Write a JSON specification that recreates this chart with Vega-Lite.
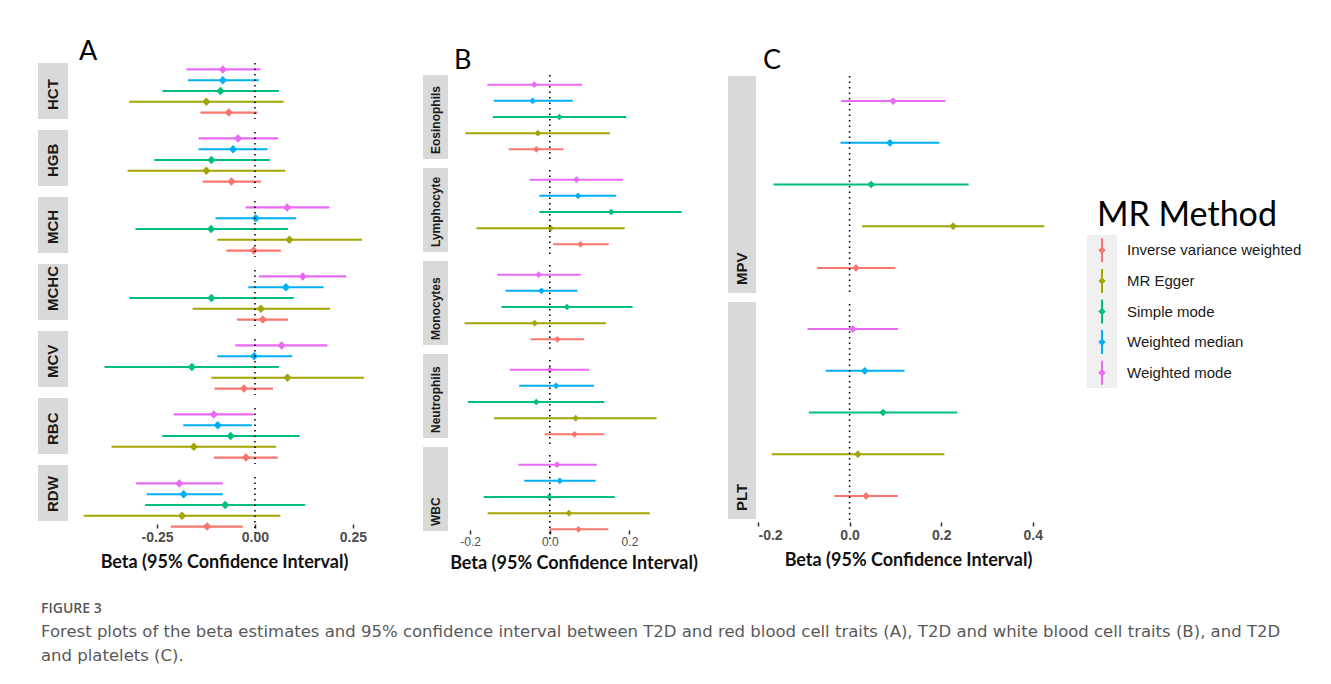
{
  "$schema": "https://vega.github.io/schema/vega-lite/v6.json",
  "background": "white",
  "padding": {"left": 38, "top": 38, "right": 0, "bottom": 0},
  "config": {
    "view": {"stroke": null},
    "axis": {"grid": false, "domain": false}
  },
  "datasets": {
    "mr": [
      {"panel": "A", "trait": "HCT", "method": "Inverse variance weighted", "beta": -0.067, "lo": -0.139, "hi": 0.006},
      {"panel": "A", "trait": "HCT", "method": "MR Egger", "beta": -0.124, "lo": -0.321, "hi": 0.073},
      {"panel": "A", "trait": "HCT", "method": "Simple mode", "beta": -0.088, "lo": -0.236, "hi": 0.061},
      {"panel": "A", "trait": "HCT", "method": "Weighted median", "beta": -0.082, "lo": -0.171, "hi": 0.010},
      {"panel": "A", "trait": "HCT", "method": "Weighted mode", "beta": -0.082, "lo": -0.175, "hi": 0.014},
      {"panel": "A", "trait": "HGB", "method": "Inverse variance weighted", "beta": -0.060, "lo": -0.133, "hi": 0.015},
      {"panel": "A", "trait": "HGB", "method": "MR Egger", "beta": -0.124, "lo": -0.325, "hi": 0.077},
      {"panel": "A", "trait": "HGB", "method": "Simple mode", "beta": -0.111, "lo": -0.257, "hi": 0.038},
      {"panel": "A", "trait": "HGB", "method": "Weighted median", "beta": -0.056, "lo": -0.144, "hi": 0.032},
      {"panel": "A", "trait": "HGB", "method": "Weighted mode", "beta": -0.043, "lo": -0.144, "hi": 0.059},
      {"panel": "A", "trait": "MCH", "method": "Inverse variance weighted", "beta": -0.003, "lo": -0.073, "hi": 0.066},
      {"panel": "A", "trait": "MCH", "method": "MR Egger", "beta": 0.088, "lo": -0.096, "hi": 0.273},
      {"panel": "A", "trait": "MCH", "method": "Simple mode", "beta": -0.112, "lo": -0.305, "hi": 0.084},
      {"panel": "A", "trait": "MCH", "method": "Weighted median", "beta": 0.002, "lo": -0.101, "hi": 0.105},
      {"panel": "A", "trait": "MCH", "method": "Weighted mode", "beta": 0.082, "lo": -0.024, "hi": 0.190},
      {"panel": "A", "trait": "MCHC", "method": "Inverse variance weighted", "beta": 0.020, "lo": -0.046, "hi": 0.084},
      {"panel": "A", "trait": "MCHC", "method": "MR Egger", "beta": 0.015, "lo": -0.159, "hi": 0.192},
      {"panel": "A", "trait": "MCHC", "method": "Simple mode", "beta": -0.111, "lo": -0.320, "hi": 0.099},
      {"panel": "A", "trait": "MCHC", "method": "Weighted median", "beta": 0.079, "lo": -0.017, "hi": 0.175},
      {"panel": "A", "trait": "MCHC", "method": "Weighted mode", "beta": 0.122, "lo": 0.010, "hi": 0.233},
      {"panel": "A", "trait": "MCV", "method": "Inverse variance weighted", "beta": -0.028, "lo": -0.103, "hi": 0.046},
      {"panel": "A", "trait": "MCV", "method": "MR Egger", "beta": 0.083, "lo": -0.111, "hi": 0.278},
      {"panel": "A", "trait": "MCV", "method": "Simple mode", "beta": -0.161, "lo": -0.384, "hi": 0.061},
      {"panel": "A", "trait": "MCV", "method": "Weighted median", "beta": -0.002, "lo": -0.096, "hi": 0.095},
      {"panel": "A", "trait": "MCV", "method": "Weighted mode", "beta": 0.068, "lo": -0.050, "hi": 0.185},
      {"panel": "A", "trait": "RBC", "method": "Inverse variance weighted", "beta": -0.023, "lo": -0.105, "hi": 0.058},
      {"panel": "A", "trait": "RBC", "method": "MR Egger", "beta": -0.156, "lo": -0.366, "hi": 0.054},
      {"panel": "A", "trait": "RBC", "method": "Simple mode", "beta": -0.062, "lo": -0.237, "hi": 0.114},
      {"panel": "A", "trait": "RBC", "method": "Weighted median", "beta": -0.095, "lo": -0.183, "hi": -0.008},
      {"panel": "A", "trait": "RBC", "method": "Weighted mode", "beta": -0.105, "lo": -0.207, "hi": -0.003},
      {"panel": "A", "trait": "RDW", "method": "Inverse variance weighted", "beta": -0.122, "lo": -0.215, "hi": -0.031},
      {"panel": "A", "trait": "RDW", "method": "MR Egger", "beta": -0.186, "lo": -0.437, "hi": 0.065},
      {"panel": "A", "trait": "RDW", "method": "Simple mode", "beta": -0.076, "lo": -0.280, "hi": 0.128},
      {"panel": "A", "trait": "RDW", "method": "Weighted median", "beta": -0.182, "lo": -0.276, "hi": -0.082},
      {"panel": "A", "trait": "RDW", "method": "Weighted mode", "beta": -0.193, "lo": -0.303, "hi": -0.082},
      {"panel": "B", "trait": "Eosinophils", "method": "Inverse variance weighted", "beta": -0.034, "lo": -0.103, "hi": 0.034},
      {"panel": "B", "trait": "Eosinophils", "method": "MR Egger", "beta": -0.030, "lo": -0.212, "hi": 0.151},
      {"panel": "B", "trait": "Eosinophils", "method": "Simple mode", "beta": 0.024, "lo": -0.143, "hi": 0.192},
      {"panel": "B", "trait": "Eosinophils", "method": "Weighted median", "beta": -0.043, "lo": -0.141, "hi": 0.058},
      {"panel": "B", "trait": "Eosinophils", "method": "Weighted mode", "beta": -0.039, "lo": -0.157, "hi": 0.081},
      {"panel": "B", "trait": "Lymphocyte", "method": "Inverse variance weighted", "beta": 0.077, "lo": 0.008, "hi": 0.148},
      {"panel": "B", "trait": "Lymphocyte", "method": "MR Egger", "beta": 0.002, "lo": -0.184, "hi": 0.188},
      {"panel": "B", "trait": "Lymphocyte", "method": "Simple mode", "beta": 0.154, "lo": -0.026, "hi": 0.331},
      {"panel": "B", "trait": "Lymphocyte", "method": "Weighted median", "beta": 0.071, "lo": -0.026, "hi": 0.166},
      {"panel": "B", "trait": "Lymphocyte", "method": "Weighted mode", "beta": 0.067, "lo": -0.051, "hi": 0.184},
      {"panel": "B", "trait": "Monocytes", "method": "Inverse variance weighted", "beta": 0.019, "lo": -0.048, "hi": 0.086},
      {"panel": "B", "trait": "Monocytes", "method": "MR Egger", "beta": -0.038, "lo": -0.214, "hi": 0.141},
      {"panel": "B", "trait": "Monocytes", "method": "Simple mode", "beta": 0.043, "lo": -0.121, "hi": 0.208},
      {"panel": "B", "trait": "Monocytes", "method": "Weighted median", "beta": -0.021, "lo": -0.111, "hi": 0.069},
      {"panel": "B", "trait": "Monocytes", "method": "Weighted mode", "beta": -0.028, "lo": -0.132, "hi": 0.078},
      {"panel": "B", "trait": "Neutrophils", "method": "Inverse variance weighted", "beta": 0.062, "lo": -0.013, "hi": 0.137},
      {"panel": "B", "trait": "Neutrophils", "method": "MR Egger", "beta": 0.065, "lo": -0.140, "hi": 0.268},
      {"panel": "B", "trait": "Neutrophils", "method": "Simple mode", "beta": -0.034, "lo": -0.206, "hi": 0.137},
      {"panel": "B", "trait": "Neutrophils", "method": "Weighted median", "beta": 0.016, "lo": -0.077, "hi": 0.111},
      {"panel": "B", "trait": "Neutrophils", "method": "Weighted mode", "beta": 0.000, "lo": -0.100, "hi": 0.099},
      {"panel": "B", "trait": "WBC", "method": "Inverse variance weighted", "beta": 0.072, "lo": -0.001, "hi": 0.147},
      {"panel": "B", "trait": "WBC", "method": "MR Egger", "beta": 0.048, "lo": -0.156, "hi": 0.251},
      {"panel": "B", "trait": "WBC", "method": "Simple mode", "beta": -0.001, "lo": -0.166, "hi": 0.163},
      {"panel": "B", "trait": "WBC", "method": "Weighted median", "beta": 0.025, "lo": -0.064, "hi": 0.115},
      {"panel": "B", "trait": "WBC", "method": "Weighted mode", "beta": 0.018, "lo": -0.079, "hi": 0.118},
      {"panel": "C", "trait": "MPV", "method": "Inverse variance weighted", "beta": 0.014, "lo": -0.071, "hi": 0.100},
      {"panel": "C", "trait": "MPV", "method": "MR Egger", "beta": 0.226, "lo": 0.027, "hi": 0.425},
      {"panel": "C", "trait": "MPV", "method": "Simple mode", "beta": 0.047, "lo": -0.166, "hi": 0.260},
      {"panel": "C", "trait": "MPV", "method": "Weighted median", "beta": 0.088, "lo": -0.020, "hi": 0.196},
      {"panel": "C", "trait": "MPV", "method": "Weighted mode", "beta": 0.095, "lo": -0.019, "hi": 0.209},
      {"panel": "C", "trait": "PLT", "method": "Inverse variance weighted", "beta": 0.036, "lo": -0.033, "hi": 0.105},
      {"panel": "C", "trait": "PLT", "method": "MR Egger", "beta": 0.018, "lo": -0.170, "hi": 0.207},
      {"panel": "C", "trait": "PLT", "method": "Simple mode", "beta": 0.073, "lo": -0.089, "hi": 0.235},
      {"panel": "C", "trait": "PLT", "method": "Weighted median", "beta": 0.033, "lo": -0.052, "hi": 0.120},
      {"panel": "C", "trait": "PLT", "method": "Weighted mode", "beta": 0.007, "lo": -0.092, "hi": 0.106}
    ]
  },
  "data": {"name": "mr"},
  "title": {
    "text": "FIGURE 3",
    "subtitle": [
      "Forest plots of the beta estimates and 95% confidence interval between T2D and red blood cell traits (A), T2D and white blood cell traits (B), and T2D",
      "and platelets (C)."
    ],
    "orient": "bottom",
    "anchor": "start",
    "offset": 30,
    "dx": 3,
    "font": "Open Sans",
    "fontSize": 14,
    "fontWeight": 600,
    "color": "#595959",
    "subtitleFont": "DejaVu Sans",
    "subtitleFontSize": 16.5,
    "subtitleColor": "#595959",
    "subtitleLineHeight": 24,
    "subtitlePadding": 8
  },
  "hconcat": [
    {
      "hconcat": [
        {
          "title": {"text": "A", "anchor": "start", "dx": 41, "offset": -4, "font": "Lato", "fontSize": 27, "fontWeight": "normal", "color": "#000"},
          "spacing": 2,
          "hconcat": [
            {
              "transform": [{"filter": "datum.panel === 'A'"}, {"aggregate": [{"op": "count", "as": "n"}], "groupby": ["trait"]}],
              "facet": {"row": {"field": "trait", "type": "nominal", "header": {"labels": false, "title": null}}},
              "spacing": {"row": 11},
              "spec": {
                "width": 30, "height": 56,
                "view": {"fill": "#d9d9d9", "stroke": null},
                "mark": {"type": "text", "angle": 270, "align": "left", "baseline": "middle", "dx": 9, "font": "Liberation Sans", "fontSize": 15, "fontWeight": "bold", "color": "#1a1a1a"},
                "encoding": {"text": {"field": "trait"}, "y": {"value": "height"}}
              }
            },
            {
              "transform": [{"filter": "datum.panel === 'A'"}],
              "facet": {"row": {"field": "trait", "type": "nominal", "header": {"labels": false, "title": null}}},
              "spacing": {"row": 11},
              "spec": {
                "width": 308, "height": 56,
                "layer": [
                  {
                    "mark": {"type": "rule", "strokeWidth": 2.2},
                    "encoding": {
                      "x": {"field": "lo", "type": "quantitative", "scale": {"domain": [-0.472, 0.314], "nice": false, "zero": false},
                        "axis": {"values": [-0.25, 0, 0.25], "labelExpr": "replace(format(datum.value, '.2f'), '\u2212', '-')", "offset": -10, "title": "Beta (95% Confidence Interval)", "labelFont": "Liberation Sans", "labelFontSize": 14, "labelFontWeight": "bold", "labelColor": "#4d4d4d", "tickColor": "#333", "tickSize": 4, "tickWidth": 1.5, "labelPadding": 2, "titleFont": "Lato", "titleFontSize": 18, "titleFontWeight": "bold", "titleColor": "#111", "titlePadding": 9}},
                      "x2": {"field": "hi"},
                      "y": {"field": "method", "type": "nominal", "sort": ["Weighted mode", "Weighted median", "Simple mode", "MR Egger", "Inverse variance weighted"], "scale": {"type": "point", "padding": 0.6}, "axis": null},
                      "color": {"field": "method", "type": "nominal", "scale": {"domain": ["Inverse variance weighted", "MR Egger", "Simple mode", "Weighted median", "Weighted mode"], "range": ["#F8766D", "#A3A500", "#00BF7D", "#00B0F6", "#E76BF3"]}, "legend": null}
                    }
                  },
                  {
                    "mark": {"type": "point", "shape": "diamond", "filled": true, "size": 70, "opacity": 1},
                    "encoding": {
                      "x": {"field": "beta", "type": "quantitative"},
                      "y": {"field": "method", "type": "nominal", "sort": ["Weighted mode", "Weighted median", "Simple mode", "MR Egger", "Inverse variance weighted"]},
                      "color": {"field": "method", "type": "nominal", "legend": null}
                    }
                  },
                  {
                    "transform": [{"filter": "datum.method === 'MR Egger'"}],
                    "mark": {"type": "rule", "strokeDash": [1.5, 4], "strokeWidth": 1.6, "color": "#000"},
                    "encoding": {"x": {"datum": 0}}
                  }
                ]
              }
            }
          ]
        },
        {
          "title": {"text": "B", "anchor": "start", "dx": 31, "offset": -12, "font": "Lato", "fontSize": 27, "fontWeight": "normal", "color": "#000"},
          "spacing": 0,
          "vconcat": [
            {"data": {"values": []}, "width": 1, "height": 11, "mark": "point", "view": {"stroke": null}},
            {
              "spacing": 1,
              "hconcat": [
                {
                  "transform": [{"filter": "datum.panel === 'B'"}, {"aggregate": [{"op": "count", "as": "n"}], "groupby": ["trait"]}],
                  "facet": {"row": {"field": "trait", "type": "nominal", "header": {"labels": false, "title": null}}},
                  "spacing": {"row": 9},
                  "spec": {
                    "width": 25, "height": 84,
                    "view": {"fill": "#d9d9d9", "stroke": null},
                    "mark": {"type": "text", "angle": 270, "align": "left", "baseline": "middle", "dx": 5, "font": "Liberation Sans", "fontSize": 12, "fontWeight": "bold", "color": "#1a1a1a"},
                    "encoding": {"text": {"field": "trait"}, "y": {"value": "height"}}
                  }
                },
                {
                  "transform": [{"filter": "datum.panel === 'B'"}],
                  "facet": {"row": {"field": "trait", "type": "nominal", "header": {"labels": false, "title": null}}},
                  "spacing": {"row": 9},
                  "spec": {
                    "width": 237, "height": 84,
                    "layer": [
                      {
                        "mark": {"type": "rule", "strokeWidth": 2},
                        "encoding": {
                          "x": {"field": "lo", "type": "quantitative", "scale": {"domain": [-0.238, 0.357], "nice": false, "zero": false},
                            "axis": {"values": [-0.2, 0, 0.2], "labelExpr": "replace(format(datum.value, '.1f'), '\u2212', '-')", "offset": -10, "title": "Beta (95% Confidence Interval)", "labelFont": "Liberation Sans", "labelFontSize": 12, "labelColor": "#4d4d4d", "tickColor": "#333", "tickSize": 4, "tickWidth": 1.5, "labelPadding": 2, "titleFont": "Lato", "titleFontSize": 18, "titleFontWeight": "bold", "titleColor": "#111", "titlePadding": 7}},
                          "x2": {"field": "hi"},
                          "y": {"field": "method", "type": "nominal", "sort": ["Weighted mode", "Weighted median", "Simple mode", "MR Egger", "Inverse variance weighted"], "scale": {"type": "point", "padding": 0.6}, "axis": null},
                          "color": {"field": "method", "type": "nominal", "legend": null}
                        }
                      },
                      {
                        "mark": {"type": "point", "shape": "diamond", "filled": true, "size": 45, "opacity": 1},
                        "encoding": {
                          "x": {"field": "beta", "type": "quantitative"},
                          "y": {"field": "method", "type": "nominal", "sort": ["Weighted mode", "Weighted median", "Simple mode", "MR Egger", "Inverse variance weighted"]},
                          "color": {"field": "method", "type": "nominal", "legend": null}
                        }
                      },
                      {
                        "transform": [{"filter": "datum.method === 'MR Egger'"}],
                        "mark": {"type": "rule", "strokeDash": [1.5, 4], "strokeWidth": 1.6, "color": "#000"},
                        "encoding": {"x": {"datum": 0}}
                      }
                    ]
                  }
                }
              ]
            }
          ]
        }
      ],
      "spacing": 45
    },
    {
      "hconcat": [
        {
          "title": {"text": "C", "anchor": "start", "dx": 35, "offset": -12, "font": "Lato", "fontSize": 27, "fontWeight": "normal", "color": "#000"},
          "spacing": 0,
          "vconcat": [
            {"data": {"values": []}, "width": 1, "height": 12, "mark": "point", "view": {"stroke": null}},
            {
              "spacing": 1,
              "hconcat": [
                {
                  "transform": [{"filter": "datum.panel === 'C'"}, {"aggregate": [{"op": "count", "as": "n"}], "groupby": ["trait"]}],
                  "facet": {"row": {"field": "trait", "type": "nominal", "header": {"labels": false, "title": null}}},
                  "spacing": {"row": 9},
                  "spec": {
                    "width": 28, "height": 217,
                    "view": {"fill": "#d9d9d9", "stroke": null},
                    "mark": {"type": "text", "angle": 270, "align": "left", "baseline": "middle", "dx": 8, "font": "Liberation Sans", "fontSize": 15, "fontWeight": "bold", "color": "#1a1a1a"},
                    "encoding": {"text": {"field": "trait"}, "y": {"value": "height"}}
                  }
                },
                {
                  "transform": [{"filter": "datum.panel === 'C'"}],
                  "facet": {"row": {"field": "trait", "type": "nominal", "header": {"labels": false, "title": null}}},
                  "spacing": {"row": 9},
                  "spec": {
                    "width": 300, "height": 217,
                    "layer": [
                      {
                        "mark": {"type": "rule", "strokeWidth": 2},
                        "encoding": {
                          "x": {"field": "lo", "type": "quantitative", "scale": {"domain": [-0.2, 0.455], "nice": false, "zero": false},
                            "axis": {"values": [-0.2, 0, 0.2, 0.4], "labelExpr": "replace(format(datum.value, '.1f'), '\u2212', '-')", "offset": 0, "title": "Beta (95% Confidence Interval)", "labelFont": "Liberation Sans", "labelFontSize": 14, "labelFontWeight": "bold", "labelColor": "#4d4d4d", "tickColor": "#333", "tickSize": 4, "tickWidth": 1.5, "labelPadding": 2, "titleFont": "Lato", "titleFontSize": 18, "titleFontWeight": "bold", "titleColor": "#111", "titlePadding": 9}},
                          "x2": {"field": "hi"},
                          "y": {"field": "method", "type": "nominal", "sort": ["Weighted mode", "Weighted median", "Simple mode", "MR Egger", "Inverse variance weighted"], "scale": {"type": "point", "padding": 0.6}, "axis": null},
                          "color": {"field": "method", "type": "nominal", "legend": null}
                        }
                      },
                      {
                        "mark": {"type": "point", "shape": "diamond", "filled": true, "size": 60, "opacity": 1},
                        "encoding": {
                          "x": {"field": "beta", "type": "quantitative"},
                          "y": {"field": "method", "type": "nominal", "sort": ["Weighted mode", "Weighted median", "Simple mode", "MR Egger", "Inverse variance weighted"]},
                          "color": {"field": "method", "type": "nominal", "legend": null}
                        }
                      },
                      {
                        "transform": [{"filter": "datum.method === 'MR Egger'"}],
                        "mark": {"type": "rule", "strokeDash": [1.5, 4], "strokeWidth": 1.6, "color": "#000"},
                        "encoding": {"x": {"datum": 0}}
                      }
                    ]
                  }
                }
              ]
            }
          ]
        },
        {
          "spacing": 0,
          "vconcat": [
            {"data": {"values": []}, "width": 30, "height": 136, "mark": "point", "view": {"stroke": null}},
            {
              "title": {"text": "MR Method", "anchor": "start", "dx": 10, "offset": 2, "font": "Lato", "fontSize": 34, "fontWeight": "normal", "color": "#000"},
              "transform": [{"aggregate": [{"op": "count", "as": "n"}], "groupby": ["method"]}],
              "width": 30, "height": 153,
              "view": {"fill": "#f0f0f0", "stroke": null},
              "layer": [
                {
                  "mark": {"type": "tick", "orient": "vertical", "thickness": 2, "size": 24, "opacity": 1},
                  "encoding": {
                    "y": {"field": "method", "type": "nominal", "sort": ["Inverse variance weighted", "MR Egger", "Simple mode", "Weighted median", "Weighted mode"], "scale": {"type": "point", "padding": 0.5}, "axis": null},
                    "color": {"field": "method", "type": "nominal", "legend": null}
                  }
                },
                {
                  "mark": {"type": "point", "shape": "diamond", "filled": true, "size": 55, "opacity": 1},
                  "encoding": {
                    "y": {"field": "method", "type": "nominal", "sort": ["Inverse variance weighted", "MR Egger", "Simple mode", "Weighted median", "Weighted mode"]},
                    "color": {"field": "method", "type": "nominal", "legend": null}
                  }
                },
                {
                  "mark": {"type": "text", "align": "left", "baseline": "middle", "dx": 25, "font": "Liberation Sans", "fontSize": 15, "color": "#1a1a1a"},
                  "encoding": {
                    "y": {"field": "method", "type": "nominal", "sort": ["Inverse variance weighted", "MR Egger", "Simple mode", "Weighted median", "Weighted mode"]},
                    "text": {"field": "method"}
                  }
                }
              ]
            }
          ]
        }
      ],
      "spacing": 29
    }
  ],
  "spacing": 30
}
